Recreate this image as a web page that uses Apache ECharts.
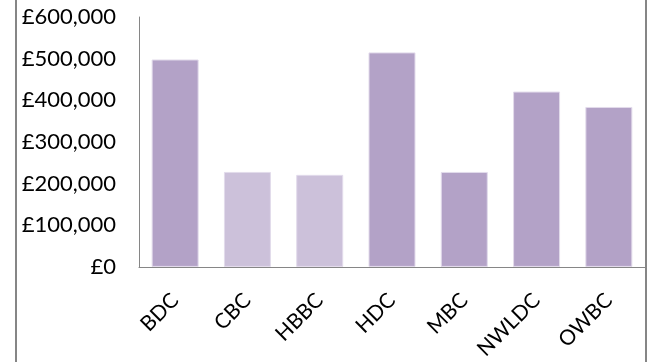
<!DOCTYPE html>
<html>
<head>
<meta charset="utf-8">
<script src="https://cdn.jsdelivr.net/npm/echarts@6/dist/echarts.min.js"></script>
<style>
  html, body { margin: 0; padding: 0; background: #ffffff; }
  #chart { width: 651px; height: 362px; }
</style>
</head>
<body>
<div id="chart"></div>
<script>
// Councils and their amounts (£)
const councils = ['BDC', 'CBC', 'HBBC', 'HDC', 'MBC', 'NWLDC', 'OWBC'];
const amounts = [498000, 228000, 221000, 515000, 228000, 421000, 384000];
// Councils drawn in the lighter shade
const lightCouncils = ['CBC', 'HBBC'];
const yTicks = [0, 100000, 200000, 300000, 400000, 500000, 600000];

const darkColor = '#b3a2c7';
const lightColor = '#ccc1da';
const axisGrey = '#868686';

const chart = echarts.init(document.getElementById('chart'), null, { renderer: 'canvas' });

const fmt = v => '£' + v.toLocaleString('en-GB');

chart.setOption({
  animation: false,
  backgroundColor: '#ffffff',
  textStyle: { fontFamily: 'Lato' },
  grid: { left: 139, right: 6, top: 17, bottom: 92, containLabel: false },
  xAxis: {
    type: 'category',
    data: councils,
    axisLine: { show: true, lineStyle: { color: axisGrey, width: 1 } },
    axisTick: { show: false },
    axisLabel: {
      rotate: 45,
      margin: 30,
      color: '#000000',
      fontSize: 21,
      fontFamily: 'Lato'
    }
  },
  yAxis: {
    type: 'value',
    min: yTicks[0],
    max: yTicks[yTicks.length - 1],
    interval: yTicks[1] - yTicks[0],
    splitLine: { show: false },
    axisLine: { show: true, lineStyle: { color: axisGrey, width: 1 } },
    axisTick: { show: false },
    axisLabel: {
      margin: 23,
      color: '#000000',
      fontSize: 22,
      fontFamily: 'Lato',
      formatter: fmt
    }
  },
  series: [{
    type: 'bar',
    barCategoryGap: '35%',
    data: councils.map((c, i) => ({
      value: amounts[i],
      itemStyle: {
        color: lightCouncils.includes(c) ? lightColor : darkColor,
        borderColor: '#e2dbeb',
        borderWidth: 1
      }
    }))
  }],
  graphic: [
    { type: 'line', shape: { x1: 16, y1: 0, x2: 16, y2: 362 }, style: { stroke: axisGrey, lineWidth: 2 } },
    { type: 'line', shape: { x1: 646, y1: 0, x2: 646, y2: 362 }, style: { stroke: axisGrey, lineWidth: 2 } }
  ]
});
</script>
</body>
</html>
